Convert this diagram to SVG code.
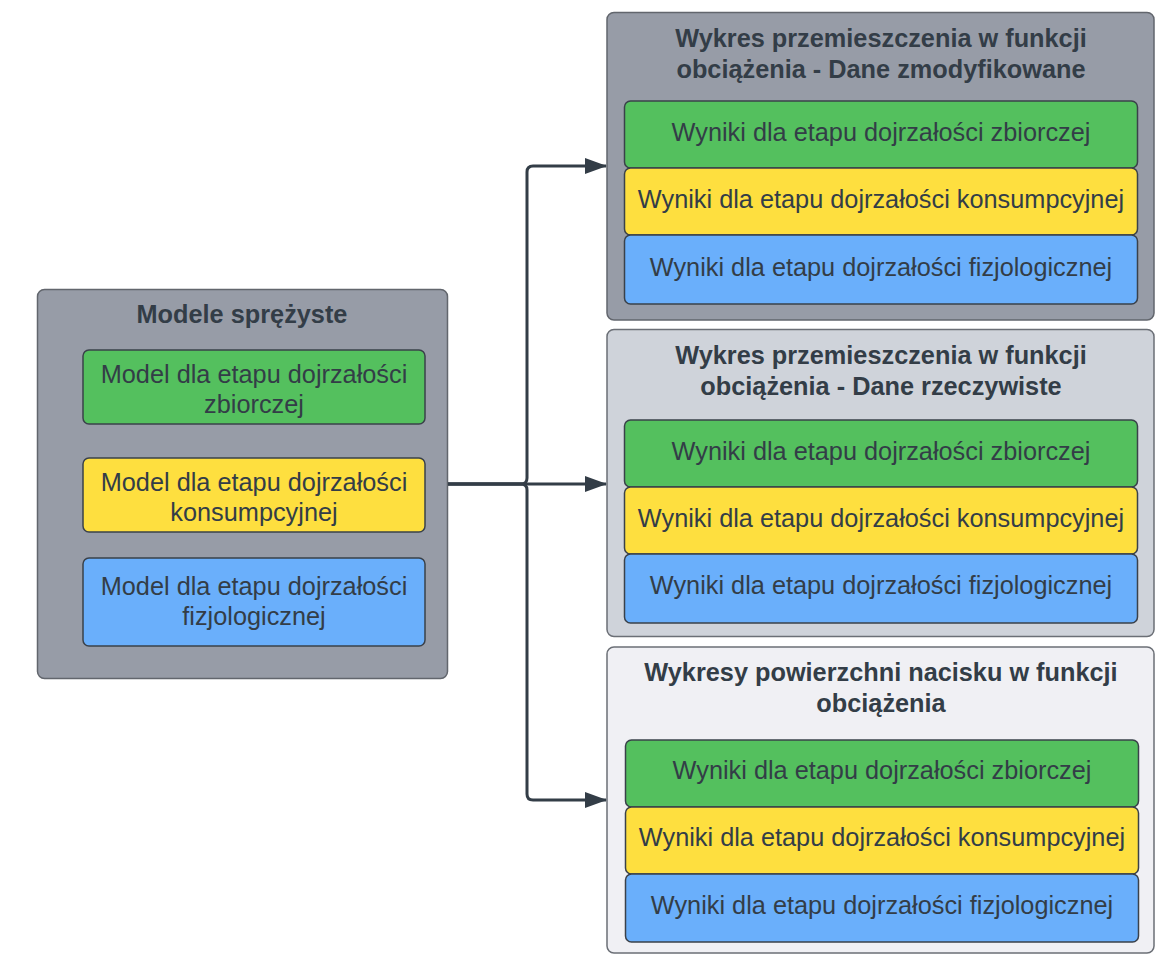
<svg xmlns="http://www.w3.org/2000/svg" width="1155" height="954" viewBox="0 0 1155 954">
<style>
  .c1 { fill: #979ca7; stroke: #62666d; stroke-width: 1.5; }
  .c2 { fill: #cfd3da; stroke: #6b6f76; stroke-width: 1.5; }
  .c3 { fill: #f0f0f4; stroke: #6b6f76; stroke-width: 1.5; }
  .g { fill: #54c05e; stroke: #3a414a; stroke-width: 1.5; }
  .y { fill: #fedf3f; stroke: #3a414a; stroke-width: 1.5; }
  .b { fill: #6aaffb; stroke: #3a414a; stroke-width: 1.5; }
  text { font-family: "Liberation Sans", Arial, sans-serif; font-size: 25.3px; fill: #333d47; text-anchor: middle; }
  .t { font-weight: bold; }
  .conn { fill: none; stroke: #333d47; stroke-width: 3; stroke-linejoin: round; }
</style>
<defs>
  <marker id="arr" viewBox="0 0 22 16" refX="21" refY="8" markerWidth="22" markerHeight="16" markerUnits="userSpaceOnUse" orient="auto">
    <path d="M0,0 L22,8 L0,16 Z" fill="#333d47"/>
  </marker>
</defs>
<rect width="1155" height="954" fill="#ffffff"/>

<g id="modele">
  <rect class="c1" x="37.5" y="289.5" width="410" height="389" rx="7"/>
  <text class="t" x="242" y="323">Modele sprężyste</text>
  <g id="modele-zbiorcza">
    <rect class="g" x="83" y="350" width="342" height="74" rx="6"/>
    <text x="254" y="383">Model dla etapu dojrzałości</text>
    <text x="254" y="413">zbiorczej</text>
  </g>
  <g id="modele-konsumpcyjna">
    <rect class="y" x="83" y="458" width="342" height="74" rx="6"/>
    <text x="254" y="491">Model dla etapu dojrzałości</text>
    <text x="254" y="521">konsumpcyjnej</text>
  </g>
  <g id="modele-fizjologiczna">
    <rect class="b" x="83" y="558" width="342" height="88" rx="6"/>
    <text x="254" y="595">Model dla etapu dojrzałości</text>
    <text x="254" y="625">fizjologicznej</text>
  </g>
</g>

<g id="wykres-zmod">
  <rect class="c1" x="607" y="12.5" width="547" height="307.5" rx="7"/>
  <text class="t" x="881" y="47">Wykres przemieszczenia w funkcji</text>
  <text class="t" x="881" y="78">obciążenia - Dane zmodyfikowane</text>
  <g id="zmod-zbiorcza">
    <rect class="g" x="624.5" y="101" width="513" height="67" rx="6"/>
    <text x="881" y="141">Wyniki dla etapu dojrzałości zbiorczej</text>
  </g>
  <g id="zmod-konsumpcyjna">
    <rect class="y" x="624.5" y="168" width="513" height="67" rx="6"/>
    <text x="881" y="208">Wyniki dla etapu dojrzałości konsumpcyjnej</text>
  </g>
  <g id="zmod-fizjologiczna">
    <rect class="b" x="624.5" y="235" width="513" height="69" rx="6"/>
    <text x="881" y="276">Wyniki dla etapu dojrzałości fizjologicznej</text>
  </g>
</g>

<g id="wykres-rzecz">
  <rect class="c2" x="607" y="329.5" width="547" height="307" rx="7"/>
  <text class="t" x="881" y="364">Wykres przemieszczenia w funkcji</text>
  <text class="t" x="881" y="395">obciążenia - Dane rzeczywiste</text>
  <g id="rzecz-zbiorcza">
    <rect class="g" x="624.5" y="420" width="513" height="67" rx="6"/>
    <text x="881" y="460">Wyniki dla etapu dojrzałości zbiorczej</text>
  </g>
  <g id="rzecz-konsumpcyjna">
    <rect class="y" x="624.5" y="487" width="513" height="67" rx="6"/>
    <text x="881" y="527">Wyniki dla etapu dojrzałości konsumpcyjnej</text>
  </g>
  <g id="rzecz-fizjologiczna">
    <rect class="b" x="624.5" y="554" width="513" height="69" rx="6"/>
    <text x="881" y="594">Wyniki dla etapu dojrzałości fizjologicznej</text>
  </g>
</g>

<g id="wykresy-powierzchni">
  <rect class="c3" x="607" y="647" width="547" height="306" rx="7"/>
  <text class="t" x="881" y="681">Wykresy powierzchni nacisku w funkcji</text>
  <text class="t" x="881" y="712">obciążenia</text>
  <g id="pow-zbiorcza">
    <rect class="g" x="625.5" y="740" width="513" height="67" rx="6"/>
    <text x="882" y="779">Wyniki dla etapu dojrzałości zbiorczej</text>
  </g>
  <g id="pow-konsumpcyjna">
    <rect class="y" x="625.5" y="807" width="513" height="67" rx="6"/>
    <text x="882" y="846">Wyniki dla etapu dojrzałości konsumpcyjnej</text>
  </g>
  <g id="pow-fizjologiczna">
    <rect class="b" x="625.5" y="874" width="513" height="68" rx="6"/>
    <text x="882" y="914">Wyniki dla etapu dojrzałości fizjologicznej</text>
  </g>
</g>

<g id="connectors">
  <path class="conn" d="M448,484 H521 Q527,484 527,478 V172 Q527,166 533,166 H606" marker-end="url(#arr)"/>
  <path class="conn" d="M448,484 H606" marker-end="url(#arr)"/>
  <path class="conn" d="M448,484 H521 Q527,484 527,490 V794 Q527,800 533,800 H606" marker-end="url(#arr)"/>
</g>
</svg>
